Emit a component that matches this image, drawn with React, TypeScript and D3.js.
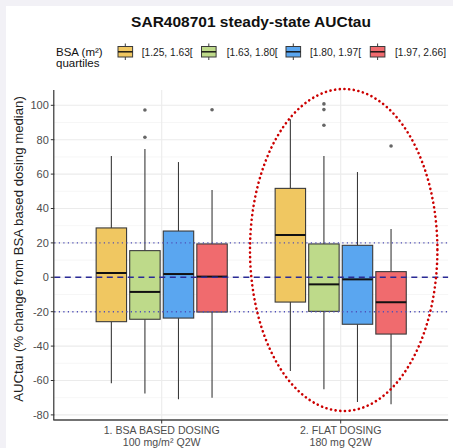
import React from "react";
import * as d3 from "d3";

const groups = ["1. BSA BASED DOSING", "2. FLAT DOSING"];
const groupSub = ["100 mg/m² Q2W", "180 mg Q2W"];
const quartiles = ["[1.25, 1.63[", "[1.63, 1.80[", "[1.80, 1.97[", "[1.97, 2.66]"];
const colors = ["#F0C761", "#BEDA8A", "#5AA6F0", "#F06B6E"];
const yTicks = [-80, -60, -40, -20, 0, 20, 40, 60, 80, 100];

// per group, per quartile
const whiskerLow = [[-61.6, -67.5, -70.9, -70.0], [-54.5, -65.1, -72.5, -73.8]];
const q1 = [[-25.8, -24.4, -23.7, -20.2], [-14.4, -19.8, -27.3, -33.0]];
const median = [[2.5, -8.5, 1.9, 0.4], [24.6, -4.1, -1.2, -14.5]];
const q3 = [[28.7, 15.5, 26.9, 19.4], [51.7, 19.4, 18.6, 3.3]];
const whiskerHigh = [[70.5, 74.6, 67.0, 50.8], [91.9, 70.5, 61.2, 28.1]];
const outliers = [[[], [97.3, 81.4], [], [97.4]], [[], [100.8, 97.5, 88.4], [], [76.3]]];

const refDashed = [0];
const refDotted = [-20, 20];

const W = 453, H = 448;
const panel = { left: 54.3, right: 448.1, top: 90, bottom: 420 };

export default function App() {
  const x = d3.scaleLinear().domain([0.4, 2.6]).range([panel.left, panel.right]);
  const y = d3.scaleLinear().domain([-80, 100]).range([414.9, 105.3]);
  const yMin = y.invert(panel.bottom), yMax = y.invert(panel.top);
  const major = d3.range(-80, 101, 20);
  const minor = d3.range(-90, 111, 20).filter(v => v > yMin && v < yMax);
  const unit = x(2) - x(1);
  const dodge = 0.1875, boxW = 0.17;
  const font = "Liberation Sans, Arial, sans-serif";

  const boxes: any[] = [];
  groups.forEach((g, gi) => {
    quartiles.forEach((q, qi) => {
      const cx = x(gi + 1 + (qi - 1.5) * dodge);
      const hw = (boxW * unit) / 2;
      boxes.push(
        <g key={`b${gi}-${qi}`}>
          <line x1={cx} x2={cx} y1={y(whiskerHigh[gi][qi])} y2={y(q3[gi][qi])} stroke="#3a3a3a" strokeWidth={1.1} />
          <line x1={cx} x2={cx} y1={y(q1[gi][qi])} y2={y(whiskerLow[gi][qi])} stroke="#3a3a3a" strokeWidth={1.1} />
          <rect x={cx - hw} y={y(q3[gi][qi])} width={hw * 2} height={y(q1[gi][qi]) - y(q3[gi][qi])}
            fill={colors[qi]} stroke="#3a3a3a" strokeWidth={1.1} />
          <line x1={cx - hw} x2={cx + hw} y1={y(median[gi][qi])} y2={y(median[gi][qi])} stroke="#111" strokeWidth={2} />
          {outliers[gi][qi].map((o, oi) => (
            <circle key={oi} cx={cx} cy={y(o)} r={1.8} fill="#666" />
          ))}
        </g>
      );
    });
  });

  // legend
  const legendKeys = [117, 200.5, 285, 369.3];
  const legendLabelX = [141.7, 226.7, 310, 395];

  return (
    <svg width={W} height={H} style={{ position: "absolute", left: 0, top: 0 }} fontFamily={font}>
      <rect x={0} y={0} width={W} height={H} fill="#F2F1F6" />
      <rect x={6} y={6} width={W - 6} height={H - 6} fill="#fff" />
      <text x={251} y={26.5} textAnchor="middle" fontSize={15.5} fontWeight="bold" fill="#111">SAR408701 steady-state AUCtau</text>

      {/* legend */}
      <text x={56} y={56} fontSize={11.5} fill="#111">BSA (m²)</text>
      <text x={56} y={67} fontSize={11.5} fill="#111">quartiles</text>
      {quartiles.map((q, i) => (
        <g key={q}>
          <line x1={legendKeys[i] + 8.3} x2={legendKeys[i] + 8.3} y1={43.5} y2={60} stroke="#3a3a3a" strokeWidth={1} />
          <rect x={legendKeys[i] + 1} y={46.5} width={14.6} height={10.5} fill={colors[i]} stroke="#3a3a3a" strokeWidth={1} />
          <line x1={legendKeys[i] + 1} x2={legendKeys[i] + 15.6} y1={51.8} y2={51.8} stroke="#111" strokeWidth={1.4} />
          <text x={legendLabelX[i]} y={55.5} fontSize={10.2} fill="#222">{q}</text>
        </g>
      ))}

      {/* grid */}
      {minor.map(v => (
        <line key={`mi${v}`} x1={panel.left} x2={panel.right} y1={y(v)} y2={y(v)} stroke="#F4F4F4" strokeWidth={0.8} />
      ))}
      {major.map(v => (
        <line key={`ma${v}`} x1={panel.left} x2={panel.right} y1={y(v)} y2={y(v)} stroke="#EBEBEB" strokeWidth={1.1} />
      ))}
      {groups.map((g, i) => (
        <line key={`vg${i}`} x1={x(i + 1)} x2={x(i + 1)} y1={panel.top} y2={panel.bottom} stroke="#EBEBEB" strokeWidth={1.1} />
      ))}

      {boxes}

      {refDotted.map(v => (
        <line key={`rd${v}`} x1={panel.left} x2={panel.right} y1={y(v)} y2={y(v)} stroke="#4F4FB8" strokeWidth={1.4} strokeDasharray="1.2 3.3" />
      ))}
      {refDashed.map(v => (
        <line key={`rs${v}`} x1={panel.left} x2={panel.right} y1={y(v)} y2={y(v)} stroke="#2A2A96" strokeWidth={1.6} strokeDasharray="6 4.5" />
      ))}

      {/* ellipse */}
      <ellipse cx={343.7} cy={250} rx={93.7} ry={161} fill="none" stroke="#CC0000" strokeWidth={2.6}
        strokeDasharray="0.1 4.6" strokeLinecap="round" />

      {/* axes */}
      <line x1={panel.left - 0.5} x2={panel.left - 0.5} y1={panel.top} y2={panel.bottom} stroke="#222" strokeWidth={1.1} />
      <line x1={panel.left - 1} x2={panel.right} y1={panel.bottom} y2={panel.bottom} stroke="#444" strokeWidth={1.3} />
      {yTicks.map(v => (
        <g key={`yt${v}`}>
          <line x1={panel.left - 3.5} x2={panel.left} y1={y(v)} y2={y(v)} stroke="#333" strokeWidth={1} />
          <text x={panel.left - 5.5} y={y(v)} dy="0.36em" textAnchor="end" fontSize={11} fill="#4D4D4D">{v}</text>
        </g>
      ))}
      {groups.map((g, i) => (
        <g key={`xt${i}`}>
          <line x1={x(i + 1)} x2={x(i + 1)} y1={panel.bottom} y2={panel.bottom + 3.5} stroke="#333" strokeWidth={1} />
          <text x={x(i + 1)} y={434.3} textAnchor="middle" fontSize={10.6} fill="#4D4D4D">{g}</text>
          <text x={x(i + 1)} y={445.5} textAnchor="middle" fontSize={10.6} fill="#4D4D4D">{groupSub[i]}</text>
        </g>
      ))}
      <text transform={`translate(22.5,${249}) rotate(-90)`} textAnchor="middle" fontSize={13.2} fill="#222">
        AUCtau (% change from BSA based dosing median)
      </text>
    </svg>
  );
}
